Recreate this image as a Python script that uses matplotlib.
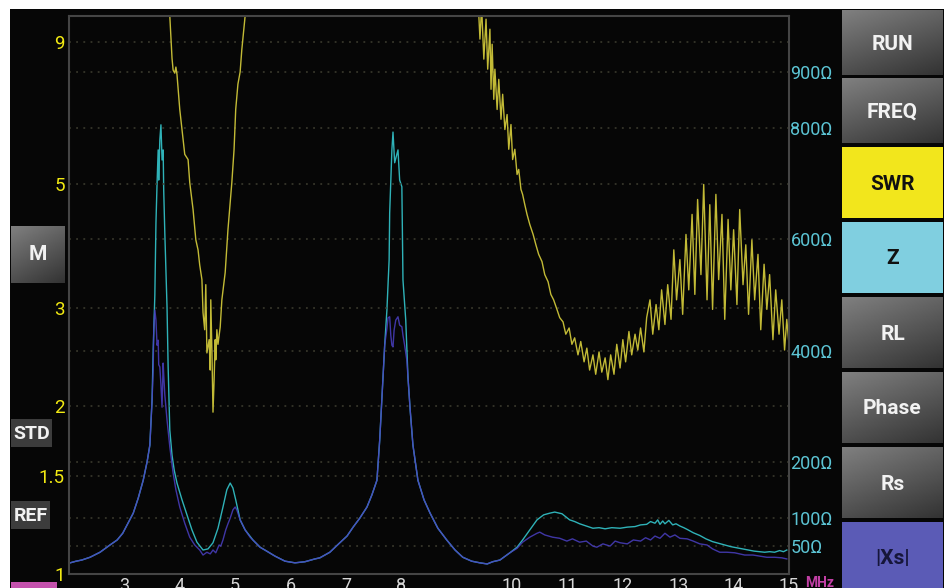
import numpy as np
import matplotlib
matplotlib.use('Agg')
import matplotlib.pyplot as plt
from matplotlib.patches import Rectangle
from matplotlib.ticker import NullLocator, NullFormatter

plt.rcParams['font.family'] = ['Roboto', 'DejaVu Sans']

# SWR trace, first dip (MHz / SWR)
swr1_freq = [3.79, 3.82, 3.86, 3.88, 3.91, 3.93, 3.95, 4.00, 4.09, 4.15,
             4.18, 4.24, 4.29, 4.33, 4.36, 4.40, 4.42, 4.45, 4.47, 4.49,
             4.53, 4.55, 4.56, 4.58, 4.60, 4.62, 4.64, 4.65, 4.67, 4.69,
             4.73, 4.76, 4.82, 4.87, 4.94, 4.98, 5.01, 5.05, 5.09, 5.12,
             5.18, 5.21]
swr1 = [11.5, 10.0, 8.4, 8.0, 7.9, 8.1, 7.85, 6.8, 5.65, 5.53,
        5.03, 4.5, 3.97, 3.81, 3.58, 3.37, 2.94, 2.74, 3.30, 2.49,
        2.63, 2.32, 3.10, 2.52, 1.95, 2.23, 2.63, 2.42, 2.74, 2.58,
        2.77, 3.10, 3.47, 4.14, 5.03, 5.76, 6.80, 7.55, 7.94, 8.7,
        10.0, 11.5]

# SWR trace, upper band
swr2_freq = [9.38, 9.42, 9.45, 9.49, 9.53, 9.56, 9.60, 9.62, 9.64, 9.67,
             9.69, 9.73, 9.76, 9.80, 9.83, 9.87, 9.91, 9.94, 9.98, 10.01,
             10.05, 10.09, 10.12, 10.16, 10.19, 10.23, 10.27, 10.32, 10.38, 10.43,
             10.48, 10.54, 10.59, 10.65, 10.70, 10.75, 10.81, 10.86, 10.92, 10.97,
             11.03, 11.08, 11.13, 11.19, 11.24, 11.30, 11.35, 11.40, 11.46, 11.51,
             11.57, 11.62, 11.68, 11.73, 11.78, 11.84, 11.89, 11.95, 12.00, 12.05,
             12.11, 12.16, 12.22, 12.27, 12.32, 12.38, 12.43, 12.49, 12.54, 12.60,
             12.65, 12.70, 12.76, 12.81, 12.87, 12.92, 12.97, 13.03, 13.08, 13.14,
             13.19, 13.25, 13.30, 13.35, 13.41, 13.46, 13.52, 13.57, 13.62, 13.68,
             13.73, 13.79, 13.84, 13.90, 13.95, 14.00, 14.06, 14.11, 14.17, 14.22,
             14.27, 14.33, 14.38, 14.44, 14.49, 14.55, 14.60, 14.65, 14.71, 14.76,
             14.82, 14.87, 14.92, 14.96, 15.00]
swr2 = [11.0, 9.09, 10.4, 8.37, 9.87, 8.03, 9.47, 7.39, 8.90, 7.09,
        8.03, 6.80, 7.70, 6.53, 7.24, 6.26, 6.66, 5.77, 6.39, 5.53,
        5.77, 5.20, 5.31, 4.89, 4.79, 4.59, 4.41, 4.23, 4.06, 3.89,
        3.74, 3.63, 3.44, 3.34, 3.17, 3.10, 2.98, 2.88, 2.83, 2.69,
        2.76, 2.58, 2.65, 2.47, 2.61, 2.40, 2.54, 2.32, 2.47, 2.28,
        2.50, 2.30, 2.44, 2.23, 2.47, 2.28, 2.58, 2.34, 2.63, 2.40,
        2.72, 2.47, 2.69, 2.52, 2.76, 2.50, 2.88, 3.10, 2.69, 3.04,
        2.74, 3.23, 2.80, 3.30, 2.86, 3.81, 3.10, 3.66, 2.92, 4.06,
        3.23, 4.41, 3.17, 4.69, 3.44, 4.99, 3.10, 4.59, 2.98, 4.79,
        3.37, 4.41, 2.86, 4.32, 3.23, 4.14, 3.04, 4.50, 3.30, 3.89,
        2.92, 3.97, 3.10, 3.74, 2.74, 3.59, 2.98, 3.44, 2.63, 3.23,
        2.69, 3.10, 2.52, 2.86, 2.58]

# |Z| trace (ohm)
z_freq = [2.02, 2.13, 2.23, 2.38, 2.56, 2.74, 2.87, 2.97, 3.06, 3.16,
          3.25, 3.34, 3.41, 3.46, 3.50, 3.52, 3.55, 3.57, 3.59, 3.61,
          3.62, 3.64, 3.66, 3.68, 3.70, 3.71, 3.73, 3.75, 3.77, 3.79,
          3.82, 3.86, 3.90, 3.95, 4.04, 4.13, 4.22, 4.31, 4.42, 4.51,
          4.60, 4.69, 4.78, 4.85, 4.91, 4.96, 5.01, 5.09, 5.18, 5.32,
          5.45, 5.57, 5.72, 5.90, 6.08, 6.26, 6.44, 6.53, 6.71, 6.89,
          7.02, 7.13, 7.25, 7.38, 7.47, 7.56, 7.61, 7.67, 7.70, 7.74,
          7.78, 7.79, 7.81, 7.83, 7.85, 7.88, 7.94, 7.97, 8.01, 8.03,
          8.08, 8.12, 8.16, 8.21, 8.30, 8.41, 8.52, 8.66, 8.82, 8.97,
          9.11, 9.27, 9.42, 9.55, 9.65, 9.78, 9.96, 10.09, 10.19, 10.32,
          10.45, 10.57, 10.68, 10.77, 10.90, 11.04, 11.13, 11.22, 11.34, 11.46,
          11.57, 11.68, 11.80, 11.95, 12.08, 12.22, 12.32, 12.43, 12.50, 12.58,
          12.63, 12.67, 12.72, 12.76, 12.83, 12.90, 12.96, 13.03, 13.10, 13.16,
          13.27, 13.39, 13.50, 13.62, 13.73, 13.84, 13.95, 14.06, 14.16, 14.26,
          14.37, 14.47, 14.56, 14.65, 14.74, 14.83, 14.90, 14.96]
z_ohm = [20, 23, 25, 30, 39, 52, 61, 73, 90, 109,
         136, 168, 201, 231, 312, 400, 500, 629, 700, 760,
         706, 778, 805, 742, 760, 688, 611, 545, 478, 371,
         258, 213, 186, 163, 133, 106, 79, 57, 43, 45,
         56, 82, 120, 151, 163, 154, 133, 97, 79, 61,
         48, 41, 32, 23, 20, 22, 27, 29, 39, 56,
         68, 84, 100, 120, 142, 168, 240, 353, 410, 473,
         563, 647, 706, 760, 792, 737, 760, 706, 694, 527,
         455, 353, 294, 231, 168, 133, 109, 82, 61, 43,
         30, 23, 20, 18, 22, 25, 38, 48, 61, 79,
         97, 106, 109, 111, 108, 97, 94, 90, 86, 82,
         83, 81, 83, 82, 84, 85, 88, 89, 94, 91,
         97, 89, 95, 90, 96, 88, 90, 86, 83, 80,
         74, 69, 63, 58, 55, 52, 49, 47, 45, 43,
         41, 40, 39, 40, 39, 42, 40, 43]

# |Xs| trace (ohm)
xs_freq = [2.02, 2.13, 2.23, 2.38, 2.56, 2.74, 2.87, 2.97, 3.06, 3.16,
           3.25, 3.34, 3.41, 3.46, 3.50, 3.52, 3.53, 3.55, 3.57, 3.59,
           3.61, 3.62, 3.64, 3.66, 3.68, 3.70, 3.71, 3.73, 3.77, 3.82,
           3.88, 3.93, 4.00, 4.09, 4.18, 4.27, 4.36, 4.42, 4.49, 4.55,
           4.60, 4.65, 4.71, 4.74, 4.78, 4.83, 4.87, 4.91, 4.96, 5.00,
           5.03, 5.09, 5.18, 5.27, 5.32, 5.45, 5.57, 5.72, 5.90, 6.08,
           6.26, 6.44, 6.53, 6.71, 6.89, 7.02, 7.13, 7.25, 7.38, 7.47,
           7.56, 7.61, 7.67, 7.70, 7.74, 7.76, 7.79, 7.81, 7.83, 7.85,
           7.87, 7.90, 7.94, 7.97, 8.01, 8.03, 8.06, 8.10, 8.12, 8.16,
           8.21, 8.30, 8.41, 8.52, 8.66, 8.82, 8.97, 9.11, 9.27, 9.42,
           9.55, 9.65, 9.78, 9.96, 10.09, 10.19, 10.32, 10.45, 10.50, 10.59,
           10.73, 10.86, 10.99, 11.09, 11.22, 11.34, 11.46, 11.53, 11.64, 11.77,
           11.86, 11.95, 12.08, 12.19, 12.32, 12.41, 12.50, 12.58, 12.67, 12.76,
           12.85, 12.94, 13.03, 13.16, 13.27, 13.39, 13.52, 13.62, 13.75, 13.88,
           14.02, 14.20, 14.35, 14.47, 14.60, 14.74, 14.87, 14.96]
xs_ohm = [20, 23, 25, 30, 39, 52, 61, 73, 90, 109,
          136, 168, 201, 231, 312, 366, 437, 473, 455, 410,
          419, 375, 371, 339, 299, 378, 357, 321, 276, 228,
          181, 151, 120, 91, 66, 52, 43, 34, 39, 36,
          43, 38, 52, 50, 61, 79, 90, 100, 115, 120,
          115, 97, 79, 66, 61, 48, 41, 32, 23, 20,
          22, 27, 29, 39, 56, 68, 84, 100, 120, 142,
          168, 240, 353, 410, 440, 459, 461, 428, 410, 407,
          437, 455, 461, 446, 443, 428, 410, 383, 353, 294,
          231, 168, 133, 109, 82, 61, 43, 30, 23, 20,
          18, 22, 25, 38, 46, 57, 66, 73, 75, 70,
          66, 64, 59, 63, 57, 59, 50, 48, 54, 50,
          59, 56, 54, 61, 59, 65, 61, 68, 64, 73,
          66, 70, 64, 63, 59, 54, 52, 45, 39, 39,
          38, 34, 34, 32, 30, 30, 29, 27]

freq_ticks = [3, 4, 5, 6, 7, 8, 10, 11, 12, 13, 14, 15]
swr_ticks = [1, 1.5, 2, 3, 5, 9]
swr_labels = ['1', '1.5', '2', '3', '5', '9']
z_ticks = [50, 100, 200, 400, 600, 800, 900]
button_labels = ['RUN', 'FREQ', 'SWR', 'Z', 'RL', 'Phase', 'Rs', '|Xs|']

W, H = 947, 588
fig = plt.figure(figsize=(W / 100, H / 100), dpi=100, facecolor='white')

# screen background and buttons
ui = fig.add_axes([0, 0, 1, 1])
ui.set_zorder(-10)
ui.axis('off')
ui.add_patch(Rectangle((10, 9), 934, 579, facecolor='#060606', lw=0))


def gray_button(x0, y0, x1, y1):
    u, v = np.meshgrid(np.linspace(0, 1, 64), np.linspace(0, 1, 64))
    g = 0.50 - 0.30 * (0.35 * u + 0.65 * v)
    ui.imshow(g, extent=(x0, x1, y1, y0), cmap='gray', vmin=0, vmax=1,
              aspect='auto', interpolation='bilinear', zorder=2)


tops = [10, 78, 147, 222, 297, 372, 447, 522]
bots = [75, 143, 218, 293, 368, 443, 518, 592]
faces = [None, None, '#f2e61c', '#80cfe0', None, None, None, '#5b5bb6']
txtc = ['#f2f2f2', '#f2f2f2', '#111111', '#111111', '#f2f2f2', '#f2f2f2', '#f2f2f2', '#16163a']
for lab, t, b, fc, tc in zip(button_labels, tops, bots, faces, txtc):
    if fc is None:
        gray_button(842, t, 943, b)
    else:
        ui.add_patch(Rectangle((842, t), 101, b - t, facecolor=fc, lw=0, zorder=2))
    yc = (t + min(b, 588)) / 2 + (4 if lab == '|Xs|' else 1.5)
    ui.text(892.5, yc, lab, color=tc, fontsize=15, fontweight='bold',
            ha='center', va='center', zorder=3)

gray_button(11, 226, 65, 283)
ui.text(38, 255, 'M', color='#f2f2f2', fontsize=15, fontweight='bold', ha='center', va='center', zorder=3)
ui.add_patch(Rectangle((11, 419), 41, 28, facecolor='#3c3c3c', lw=0, zorder=2))
ui.text(31.5, 434, 'STD', color='#f2f2f2', fontsize=14, fontweight='bold', ha='center', va='center', zorder=3)
ui.add_patch(Rectangle((11, 501), 39, 28, facecolor='#3c3c3c', lw=0, zorder=2))
ui.text(30.5, 516, 'REF', color='#f2f2f2', fontsize=14, fontweight='bold', ha='center', va='center', zorder=3)
ui.add_patch(Rectangle((11, 582), 46, 8, facecolor='#c452ad', lw=0, zorder=2))
ui.text(805, 576, 'MHz', color='#c23fa5', fontsize=10, fontweight='bold', ha='left', va='top', zorder=3)
ui.set_xlim(0, W)
ui.set_ylim(H, 0)

# plot area
ax = fig.add_axes([69 / W, 14 / H, 720 / W, 558 / H])
ax2 = ax.twinx()
ax.set_zorder(2)
ax.patch.set_visible(False)
ax2.set_zorder(1)
ax2.patch.set_visible(True)
ax2.set_facecolor('#060606')

grid_kw = dict(color='#3e3d30', linestyle=(0, (1.2, 3.5)), linewidth=1.1)

ax2.set_ylim(0, 1000)
ax2.set_yticks(z_ticks)
ax2.set_yticklabels([f'{v}Ω' for v in z_ticks])
ax2.tick_params(axis='y', length=0, pad=1, labelcolor='#5cc4d4', labelsize=13)
ax2.yaxis.grid(True, **grid_kw)
for s in ax2.spines.values():
    s.set_visible(False)
ax2.plot(z_freq, z_ohm, color='#2fb2b8', lw=1.0)
ax2.plot(xs_freq, xs_ohm, color='#4a3fc2', lw=1.0, alpha=0.85)

ax.set_xlim(2, 15)
ax.set_yscale('log')
ax.set_ylim(1, 10)
ax.set_yticks(swr_ticks)
ax.set_yticklabels(swr_labels)
ax.yaxis.set_minor_locator(NullLocator())
ax.yaxis.set_minor_formatter(NullFormatter())
ax.set_xticks(freq_ticks)
ax.set_xticklabels([str(t) for t in freq_ticks])
ax.tick_params(axis='y', length=0, pad=3, labelcolor='#f2ea12', labelsize=13.5)
ax.tick_params(axis='x', length=0, pad=2, labelcolor='#d6d6d6', labelsize=13)
ax.yaxis.grid(True, **grid_kw)
for s in ax.spines.values():
    s.set_color('#454545')
    s.set_linewidth(1.5)
ax.plot(swr1_freq, swr1, color='#c2ba36', lw=1.0)
ax.plot(swr2_freq, swr2, color='#c2ba36', lw=1.0)

fig.savefig('out.png', dpi=100, facecolor='white')
